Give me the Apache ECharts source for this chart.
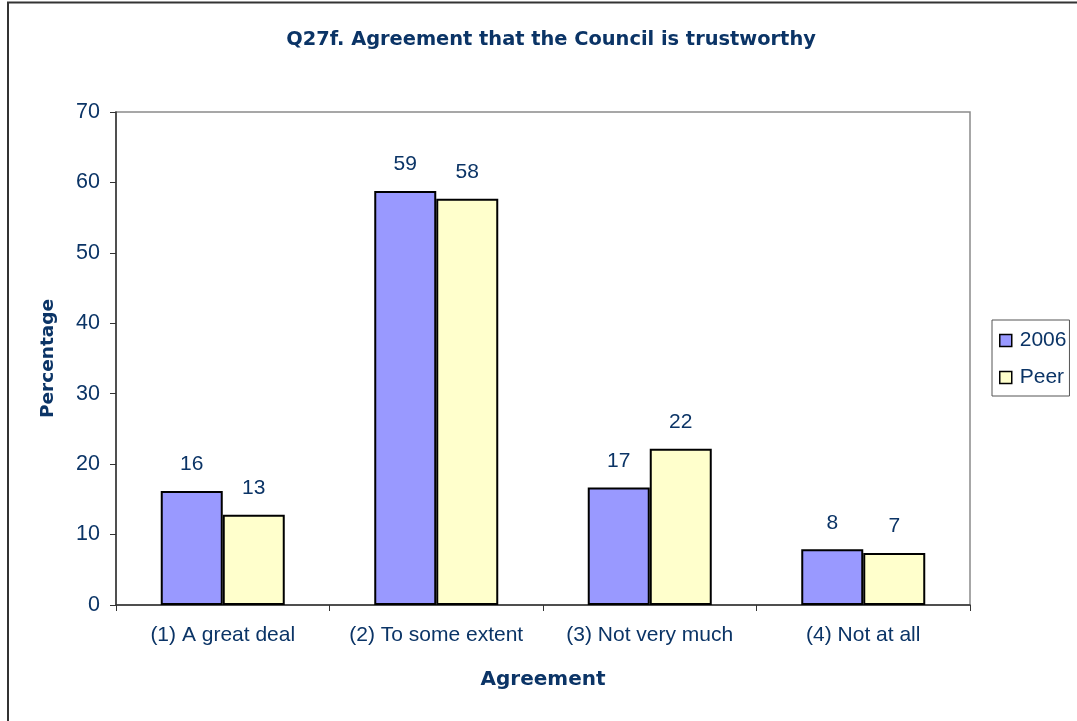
<!DOCTYPE html>
<html>
<head>
<meta charset="utf-8">
<script src="https://cdn.jsdelivr.net/npm/echarts@6/dist/echarts.min.js"></script>
<style>
html,body{margin:0;padding:0;background:#fff;}
#chart{width:1077px;height:721px;}
</style>
</head>
<body>
<div id="chart"></div>
<script>
var titleText = 'Q27f. Agreement that the Council is trustworthy';
var categories = ['(1) A great deal', '(2) To some extent', '(3) Not very much', '(4) Not at all'];
var seriesNames = ['2006', 'Peer'];
var values2006 = [16.2, 58.8, 16.7, 7.9];
var valuesPeer = [12.8, 57.7, 22.2, 7.4];
var yTicks = [0, 70, 10]; // min, max, interval
var xAxisTitle = 'Agreement';
var yAxisTitle = 'Percentage';

var navy = '#0B3466';
var chart = echarts.init(document.getElementById('chart'), null, {renderer: 'canvas'});
var labelCfg = {
  show: true, position: 'top', distance: 16,
  color: navy, fontFamily: 'Liberation Sans', fontSize: 21,
  formatter: function (p) { return Math.round(p.value); }
};
chart.setOption({
  animation: false,
  backgroundColor: '#ffffff',
  title: {
    text: titleText,
    left: 546, top: 25, textAlign: 'center',
    textStyle: {color: navy, fontFamily: 'DejaVu Sans', fontWeight: 'bold', fontSize: 19.4}
  },
  graphic: [
    {type: 'line', shape: {x1: 7, y1: 2.5, x2: 1077, y2: 2.5}, style: {stroke: '#333', lineWidth: 2}},
    {type: 'line', shape: {x1: 8, y1: 2, x2: 8, y2: 721}, style: {stroke: '#333', lineWidth: 2}}
  ],
  legend: {
    orient: 'vertical',
    left: 992, top: 320,
    padding: [10, 3, 8, 7],
    itemGap: 16,
    itemWidth: 12, itemHeight: 12,
    icon: 'rect',
    borderColor: '#555', borderWidth: 1,
    itemStyle: {borderColor: '#000', borderWidth: 1.5},
    textStyle: {color: navy, fontFamily: 'Liberation Sans', fontSize: 21, padding: [0, 0, 0, 3]},
    data: seriesNames
  },
  grid: {
    left: 116, right: 107, top: 112, bottom: 116,
    show: true, borderColor: '#8a8a8a', borderWidth: 1.5, backgroundColor: 'transparent',
    containLabel: false
  },
  xAxis: {
    type: 'category',
    data: categories,
    boundaryGap: true,
    name: xAxisTitle,
    nameLocation: 'middle',
    nameGap: 65,
    nameTextStyle: {color: navy, fontFamily: 'DejaVu Sans', fontWeight: 'bold', fontSize: 20},
    axisLine: {lineStyle: {color: '#333', width: 1.5}},
    axisTick: {show: true, length: 6, alignWithLabel: false, lineStyle: {color: '#333'}},
    axisLabel: {color: navy, fontFamily: 'Liberation Sans', fontSize: 21, margin: 20, interval: 0}
  },
  yAxis: {
    type: 'value',
    min: yTicks[0], max: yTicks[1], interval: yTicks[2],
    name: yAxisTitle,
    nameLocation: 'middle',
    nameGap: 58,
    nameRotate: 90,
    nameTextStyle: {color: navy, fontFamily: 'DejaVu Sans', fontWeight: 'bold', fontSize: 18.5},
    splitLine: {show: false},
    axisLine: {show: true, lineStyle: {color: '#333', width: 1.5}},
    axisTick: {show: true, length: 6, lineStyle: {color: '#333'}},
    axisLabel: {color: navy, fontFamily: 'Liberation Sans', fontSize: 21.5, margin: 16}
  },
  series: [
    {
      name: seriesNames[0], type: 'bar', data: values2006,
      barWidth: 62, barGap: '0%',
      itemStyle: {color: '#9999FF', borderColor: '#000', borderWidth: 2},
      label: labelCfg
    },
    {
      name: seriesNames[1], type: 'bar', data: valuesPeer,
      barWidth: 62, barGap: '0%',
      itemStyle: {color: '#FFFFCC', borderColor: '#000', borderWidth: 2},
      label: labelCfg
    }
  ]
});
</script>
</body>
</html>
